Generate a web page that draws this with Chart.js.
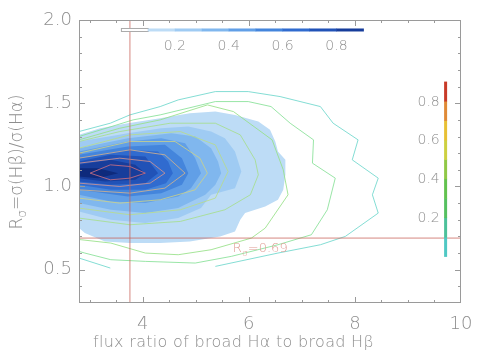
<!DOCTYPE html>
<html><head><meta charset="utf-8">
<script src="https://cdn.jsdelivr.net/npm/chart.js@4.4.1/dist/chart.umd.min.js"></script>
<style>html,body{margin:0;padding:0;background:#fff}#wrap{width:488px;height:364px}</style>
</head><body><div id="wrap"><canvas id="c" width="488" height="364"></canvas></div>
<script>
// ---- data ----
const xTicks = [4, 6, 8, 10];
const yTicks = [0.5, 1.0, 1.5, 2.0];
const cbTickLabels = [0.2, 0.4, 0.6, 0.8];
const refX = 3.76;
const refY = 0.69;

// filled density contours (outer -> inner)
const band1 = [[2.6,1.30],[2.80,1.31],[3.20,1.35],[3.72,1.38],[4.33,1.41],[4.89,1.44],[5.37,1.45],[5.74,1.43],[6.18,1.39],[6.40,1.34],[6.50,1.27],[6.55,1.21],[6.69,1.16],[6.69,1.07],[6.65,0.98],[6.55,0.92],[6.31,0.88],[5.93,0.84],[5.84,0.80],[5.74,0.73],[5.46,0.70],[4.89,0.67],[4.33,0.66],[3.76,0.66],[3.29,0.67],[2.91,0.72],[2.80,0.75],[2.6,0.76]];
const band2 = [[2.6,1.27],[2.80,1.27],[3.72,1.32],[4.35,1.35],[4.86,1.36],[5.29,1.33],[5.55,1.29],[5.74,1.21],[5.86,1.09],[5.74,0.99],[5.29,0.95],[5.10,0.87],[4.67,0.81],[4.05,0.78],[3.40,0.80],[2.80,0.85],[2.6,0.85]];
const band3 = [[2.6,1.23],[2.80,1.23],[3.72,1.29],[4.54,1.32],[4.99,1.30],[5.29,1.23],[5.42,1.15],[5.48,1.08],[5.37,1.01],[5.18,0.95],[4.67,0.87],[4.05,0.84],[3.40,0.86],[2.80,0.90],[2.6,0.90]];
const band4 = [[2.6,1.21],[2.80,1.21],[3.72,1.27],[4.35,1.29],[4.80,1.26],[4.99,1.17],[5.10,1.08],[4.91,0.99],[4.67,0.94],[4.05,0.90],[3.40,0.91],[2.80,0.95],[2.6,0.95]];
const band5 = [[2.6,1.19],[2.80,1.19],[3.72,1.24],[4.42,1.25],[4.74,1.17],[4.86,1.08],[4.74,1.01],[4.35,0.96],[3.72,0.94],[2.80,0.98],[2.6,0.98]];
const band6 = [[2.6,1.17],[2.80,1.17],[3.72,1.22],[4.29,1.21],[4.48,1.15],[4.57,1.08],[4.44,1.02],[4.05,0.98],[3.40,0.98],[2.80,1.01],[2.6,1.01]];
const band7 = [[2.6,1.15],[2.80,1.15],[3.40,1.19],[4.05,1.18],[4.29,1.08],[4.05,1.02],[3.40,1.01],[2.80,1.03],[2.6,1.03]];
const band8 = [[2.6,1.13],[2.80,1.13],[3.40,1.16],[3.86,1.13],[4.05,1.08],[3.86,1.04],[3.29,1.03],[2.80,1.05],[2.6,1.05]];
const band9 = [[2.6,1.11],[2.80,1.11],[3.16,1.11],[3.54,1.08],[3.16,1.05],[2.80,1.06],[2.6,1.06]];

// contour lines (outer -> inner)
const line1a = [[2.6,1.32],[2.80,1.33],[3.39,1.38],[3.76,1.43],[4.33,1.48],[4.67,1.52],[5.37,1.57],[5.99,1.57],[6.59,1.54],[7.35,1.48],[7.59,1.38],[8.06,1.28],[7.95,1.16],[8.44,1.05],[8.33,0.95],[8.44,0.84],[7.82,0.70],[7.35,0.65],[6.55,0.60],[5.37,0.52]];
const line1b = [[2.6,0.58],[2.80,0.57],[3.39,0.51]];
const line2 = [[2.6,1.29],[2.80,1.30],[3.82,1.40],[4.33,1.43],[5.37,1.51],[5.99,1.51],[6.42,1.48],[6.78,1.38],[7.22,1.28],[7.20,1.14],[7.63,1.05],[7.48,0.86],[7.18,0.71],[6.55,0.65],[5.67,0.58],[4.99,0.54],[4.05,0.55],[3.40,0.56],[2.91,0.60],[2.80,0.61],[2.6,0.62]];
const line3 = [[2.6,1.27],[2.80,1.28],[3.57,1.35],[4.33,1.40],[5.22,1.49],[5.71,1.45],[6.44,1.28],[6.65,1.10],[6.74,0.95],[6.31,0.75],[6.05,0.69],[5.29,0.62],[4.67,0.59],[4.05,0.60],[3.40,0.66],[2.84,0.68],[2.6,0.69]];
const line4 = [[2.6,1.26],[2.80,1.27],[3.57,1.33],[4.52,1.38],[5.37,1.38],[5.84,1.31],[6.12,1.16],[6.18,1.07],[6.03,0.95],[5.55,0.86],[4.71,0.79],[3.76,0.77],[2.80,0.81],[2.6,0.82]];
const line5 = [[2.6,1.22],[2.80,1.23],[3.76,1.31],[4.71,1.33],[5.37,1.25],[5.61,1.09],[5.37,0.93],[4.71,0.86],[3.76,0.83],[2.80,0.87],[2.6,0.88]];
const line6 = [[2.6,1.19],[2.80,1.20],[3.76,1.27],[4.61,1.27],[5.08,1.17],[5.22,1.08],[4.99,0.98],[4.33,0.92],[3.57,0.90],[2.80,0.93],[2.6,0.94]];
const line7 = [[2.6,1.16],[2.80,1.17],[3.76,1.22],[4.42,1.19],[4.80,1.08],[4.42,0.99],[3.76,0.96],[2.80,0.98],[2.6,0.99]];
const line8 = [[2.6,1.14],[2.80,1.14],[3.57,1.17],[4.14,1.15],[4.42,1.08],[4.14,1.02],[3.57,1.00],[2.80,1.02],[2.6,1.02]];
const line9 = [[3.01,1.08],[3.39,1.13],[3.76,1.12],[4.05,1.08],[3.76,1.05],[3.39,1.04],[3.01,1.08]];

// ---- styles ----
const bandColors = ['#bddcf6','#9fcbf3','#80b7ee','#619fe7','#4485dc','#306bcf','#2152b7','#173d9b','#0e2a7c'];
const lineColors = ['rgba(110,215,205,0.85)','rgba(135,225,150,0.85)','rgba(150,225,135,0.85)','rgba(165,222,135,0.8)','rgba(185,220,135,0.8)','rgba(205,210,135,0.8)','rgba(215,180,140,0.8)','rgba(215,150,145,0.8)','rgba(200,110,130,0.85)'];
const cbLineColors = ['#4fc8c4','#4cc19a','#55c060','#62c24e','#90c846','#cdd040','#e8c034','#e08a36','#c83a28'];
const textGray = '#8e8e8e';
const axisGray = '#9a9a9a';
const redLine = 'rgba(200,95,85,0.75)';
const FONT = '"DejaVu Sans"';
const WEIGHT = '200';

const xMin = 2.8, xMax = 10, yMin = 0.3, yMax = 2.0;
// colorbar placement (data coordinates)
const hBar = {x0: 3.59, x1: 8.16, y: 1.94};
const vBar = {x: 9.71, y0: 0.58, y1: 1.63};

const pts = a => a.map(p => ({x: p[0], y: p[1]}));
const bands = [band1,band2,band3,band4,band5,band6,band7,band8,band9];
const lines = [[line1a,line1b],[line2],[line3],[line4],[line5],[line6],[line7],[line8],[line9]];

const datasets = [];
bands.forEach((b, i) => datasets.push({
  data: pts(b), showLine: true, pointRadius: 0, borderWidth: 0,
  backgroundColor: bandColors[i], borderColor: 'rgba(0,0,0,0)', fill: 'shape',
  tension: 0, order: 40 - i
}));
lines.forEach((group, i) => group.forEach(l => datasets.push({
  data: pts(l), showLine: true, pointRadius: 0, borderWidth: 1,
  borderColor: lineColors[i], fill: false, tension: 0, order: 20 - i
})));
datasets.push({data: pts([[refX, yMin],[refX, yMax]]), showLine: true, pointRadius: 0, borderWidth: 1, borderColor: redLine, fill: false, order: 1});
datasets.push({data: pts([[xMin, refY],[xMax, refY]]), showLine: true, pointRadius: 0, borderWidth: 1, borderColor: redLine, fill: false, order: 1});

function fontStr(size) { return WEIGHT + ' ' + size + 'px ' + FONT; }
function drawRich(ctx, parts, x, y, size, align) {
  let w = 0;
  parts.forEach(p => { ctx.font = fontStr(p[1] ? size*0.72 : size); w += ctx.measureText(p[0]).width; });
  let cx = align === 'center' ? x - w/2 : x;
  parts.forEach(p => {
    ctx.font = fontStr(p[1] ? size*0.72 : size);
    ctx.fillText(p[0], cx, y + (p[1] ? size*0.3 : 0));
    cx += ctx.measureText(p[0]).width;
  });
}

const decor = {
  id: 'decor',
  afterDatasetsDraw(chart) {
    const {ctx, chartArea: ca, scales: {x, y}} = chart;
    ctx.save();
    ctx.strokeStyle = axisGray; ctx.lineWidth = 1;
    ctx.strokeRect(Math.round(ca.left)+0.5, Math.round(ca.top)+0.5, Math.round(ca.right-ca.left)-1, Math.round(ca.bottom-ca.top)-1);
    ctx.beginPath();
    for (let v = 3.0; v <= 9.51; v += 0.5) {
      const px = Math.round(x.getPixelForValue(v)) + 0.5;
      const len = xTicks.some(t => Math.abs(t - v) < 1e-6) ? 6 : 3;
      ctx.moveTo(px, ca.bottom); ctx.lineTo(px, ca.bottom - len);
      ctx.moveTo(px, ca.top); ctx.lineTo(px, ca.top + len);
    }
    for (let v = 0.4; v <= 1.91; v += 0.1) {
      const py = Math.round(y.getPixelForValue(v)) + 0.5;
      const len = yTicks.some(t => Math.abs(t - v) < 1e-6) ? 6 : 3;
      ctx.moveTo(ca.left, py); ctx.lineTo(ca.left + len, py);
      ctx.moveTo(ca.right, py); ctx.lineTo(ca.right - len, py);
    }
    ctx.stroke();

    // horizontal colorbar
    const hx0 = x.getPixelForValue(hBar.x0), hx1 = x.getPixelForValue(hBar.x1), hy = y.getPixelForValue(hBar.y);
    const segW = (hx1 - hx0) / 9;
    for (let i = 0; i < 9; i++) {
      const sx = hx0 + i * segW;
      if (i === 0) {
        ctx.fillStyle = '#fff'; ctx.fillRect(sx, hy - 1.5, segW, 3);
        ctx.strokeStyle = '#aaa'; ctx.strokeRect(sx + 0.5, hy - 1.5, segW, 3);
      } else {
        ctx.fillStyle = bandColors[i - 1]; ctx.fillRect(sx, hy - 1.5, segW + 0.5, 3);
      }
    }
    ctx.fillStyle = textGray; ctx.font = fontStr(14); ctx.textAlign = 'center'; ctx.textBaseline = 'middle';
    cbTickLabels.forEach(v => ctx.fillText(v.toFixed(1), hx0 + (hx1 - hx0) * v / 0.9, hy + 16));

    // vertical colorbar
    const vx = x.getPixelForValue(vBar.x), vy0 = y.getPixelForValue(vBar.y0), vy1 = y.getPixelForValue(vBar.y1);
    const segH = (vy0 - vy1) / 9;
    for (let i = 0; i < 9; i++) {
      ctx.fillStyle = cbLineColors[i];
      ctx.fillRect(vx - 1.5, vy0 - (i + 1) * segH, 3, segH + 0.5);
    }
    ctx.fillStyle = textGray;
    cbTickLabels.forEach(v => ctx.fillText(v.toFixed(1), vx - 17, vy0 - (vy0 - vy1) * v / 0.9 + 1));

    // R_sigma label
    ctx.fillStyle = '#e09c94'; ctx.textAlign = 'left'; ctx.textBaseline = 'alphabetic';
    drawRich(ctx, [['R', false], ['σ', true], ['=' + refY.toFixed(2), false]], x.getPixelForValue(5.70), y.getPixelForValue(refY) + 14, 13, 'left');

    // axis titles
    ctx.fillStyle = textGray;
    ctx.textBaseline = 'middle';
    ctx.font = fontStr(16);
    ctx.textAlign = 'left';
    ctx.letterSpacing = '0.3px';
    ctx.fillText('flux ratio of broad Hα to broad Hβ', 93, 343);
    ctx.letterSpacing = '0px';
    ctx.translate(18, 162); ctx.rotate(-Math.PI / 2);
    drawRich(ctx, [['R', false], ['σ', true], ['=σ(Hβ)/σ(Hα)', false]], 0, 0, 17, 'center');
    ctx.restore();
  }
};

new Chart(document.getElementById('c'), {
  type: 'scatter',
  data: {datasets},
  options: {
    responsive: false, animation: false,
    layout: {padding: {top: 20, right: 27, left: 0, bottom: 0}},
    plugins: {legend: {display: false}, tooltip: {enabled: false}},
    scales: {
      x: {
        type: 'linear', min: xMin, max: xMax,
        afterBuildTicks: s => { s.ticks = xTicks.map(v => ({value: v})); },
        afterFit: s => { s.height = 61; },
        grid: {display: false, drawTicks: false}, border: {display: false},
        ticks: {color: textGray, font: {family: 'DejaVu Sans', size: 18, weight: WEIGHT}, padding: 11, maxRotation: 0, callback: v => String(v)}
      },
      y: {
        type: 'linear', min: yMin, max: yMax,
        afterBuildTicks: s => { s.ticks = yTicks.map(v => ({value: v})); },
        afterFit: s => { s.width = 79; },
        grid: {display: false, drawTicks: false}, border: {display: false},
        ticks: {color: textGray, font: {family: 'DejaVu Sans', size: 18, weight: WEIGHT}, padding: 7, callback: v => Number(v).toFixed(1)}
      }
    }
  },
  plugins: [decor]
});
</script>
</body></html>
